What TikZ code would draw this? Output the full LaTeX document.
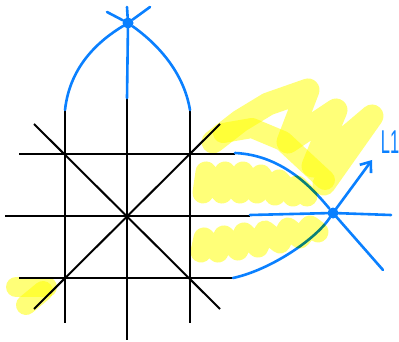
\documentclass[tikz,border=0pt]{standalone}
\usepackage{fontspec}
\setmainfont{Liberation Sans}
\usetikzlibrary{arrows.meta}
\definecolor{penblue}{RGB}{10,128,255}
\definecolor{hilite}{RGB}{255,255,120}
\tikzset{
  gridline/.style={black,line width=2pt},
  blueline/.style={penblue,line width=2.6pt,line cap=round,line join=round},
  hl/.style={hilite,line width=23pt,line cap=round,line join=round},
  bluedot/.style={circle,fill=penblue,inner sep=0pt,minimum size=11pt},
  lbl/.style={text=penblue,font=\fontsize{33}{33}\selectfont,xscale=0.5}
}
\begin{document}
\begin{tikzpicture}[x=1pt,y=-1pt]
\useasboundingbox (0,0) rectangle (399,342);
\fill[white] (0,0) rectangle (399,342);
% grid
\draw[gridline] (65,108) -- (65,323);
\draw[gridline] (127,95) -- (127,340);
\draw[gridline] (190,108) -- (190,323);
\draw[gridline] (19,154) -- (235,154);
\draw[gridline] (5,216) -- (250,216);
\draw[gridline] (19,278) -- (233,278);
\draw[gridline] (34,124) -- (220,309);
\draw[gridline] (220,124) -- (34,309);
% blue points
\node[bluedot] (P) at (128,23) {};
\node[bluedot] (Q) at (333,213) {};
\coordinate (p1) at (107,12);
\coordinate (p2) at (150,7);
\coordinate (p3) at (127,7);
\coordinate (p4) at (127,98);
\coordinate (pl) at (65,110);
\coordinate (pr) at (190,110);
\draw[blueline] (p1) -- (P) -- (p2);
\draw[blueline] (p3) -- (P.center) -- (p4);
\draw[blueline] (P) .. controls (100,40) and (70,65) .. (pl);
\draw[blueline] (P) .. controls (152,40) and (183,68) .. (pr);
\coordinate (qa) at (235,153);
\coordinate (qb) at (233,278);
\coordinate (qc) at (250,215);
\coordinate (qd) at (391,215);
\coordinate (qe) at (383,270);
\coordinate (qf) at (372,160);
\draw[blueline] (qa) .. controls (280,155) and (310,185) .. (Q);
\draw[blueline] (qb) .. controls (270,270) and (315,240) .. (Q);
\draw[blueline] (qc) -- (Q.center) -- (qd);
\draw[blueline] (qe) -- (Q.center);
\draw[blueline,-{Straight Barb[length=9pt,width=14pt]}] (Q.center) -- (qf);
\node[lbl] (L) at (390,142) {L1};
% highlights
\begin{scope}[blend mode=multiply]
\draw[hl] (213,142) -- (240,121) -- (268,104) -- (308,90) -- (288,142) -- (336,110) -- (313,166) -- (372,116) -- (324,184);
\draw[hl,line width=20pt] (223,133) -- (252,128) -- (283,141) -- (325,180);
\draw[hl,line width=21pt] (203,193) -- (206,172) -- (222,193) -- (225,172) -- (240,193) -- (243,172) -- (257,193) -- (261,175) -- (275,195) -- (279,180) -- (293,196) -- (297,186) -- (307,196);
\draw[hl,line width=21pt] (201,252) -- (204,238) -- (218,252) -- (224,236) -- (238,250) -- (244,233) -- (258,247) -- (265,231) -- (280,243) -- (288,228) -- (300,238) -- (310,226) -- (318,232);
\draw[hl,line width=20pt] (16,287) -- (47,287);
\draw[hl,line width=20pt] (26,305) -- (43,291);
\end{scope}
\end{tikzpicture}
\end{document}
